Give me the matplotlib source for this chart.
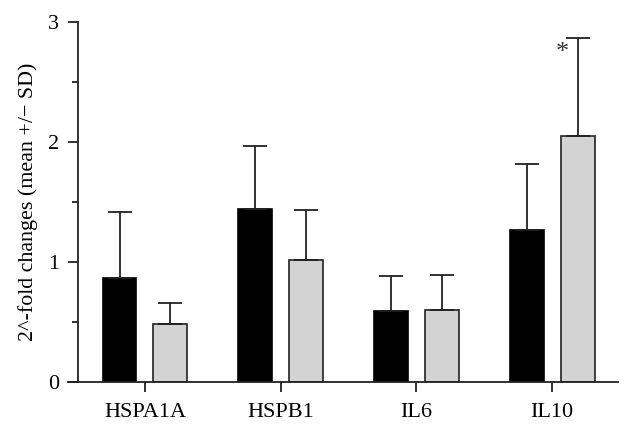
import numpy as np
import matplotlib
matplotlib.use('Agg')
import matplotlib.pyplot as plt
from matplotlib.ticker import MultipleLocator

# Data
genes = ['HSPA1A', 'HSPB1', 'IL6', 'IL10']
black_mean = [0.87, 1.44, 0.59, 1.27]
black_sd = [0.55, 0.53, 0.29, 0.55]
grey_mean = [0.48, 1.02, 0.60, 2.05]
grey_sd = [0.18, 0.41, 0.29, 0.82]

plt.rcParams['font.family'] = ['Liberation Serif', 'DejaVu Serif']

fig = plt.figure(figsize=(6.32, 4.32), dpi=100)
ax = fig.add_axes([68 / 632, 1 - 382 / 432, 550 / 632, 360 / 432])

x = np.arange(len(genes))
w = 0.25
off = 0.1875
err_kw = dict(ecolor='#222222', elinewidth=1.3, capsize=8.5, capthick=1.3)

ax.bar(x - off, black_mean, w, color='black', edgecolor='black', linewidth=1.2,
       yerr=[np.zeros(len(genes)), black_sd], error_kw=err_kw, zorder=2)
ax.bar(x + off, grey_mean, w, color='#d3d3d3', edgecolor='#222222', linewidth=1.2,
       yerr=[np.zeros(len(genes)), grey_sd], error_kw=err_kw, zorder=2)

# significance marker on IL10
ax.text(3 + off - 0.115, grey_mean[3] + grey_sd[3] - 0.13, '*', ha='center', va='center',
        fontsize=19, color='#333333')

ax.set_xlim(-0.567, 3.485)
ax.set_ylim(0, 3)
ax.spines['top'].set_visible(False)
ax.spines['right'].set_visible(False)
ax.spines['left'].set_position(('data', -0.494))
for s in ('left', 'bottom'):
    ax.spines[s].set_linewidth(1.3)
    ax.spines[s].set_color('#222222')

ax.set_xticks(x)
ax.set_xticklabels(genes, fontsize=16)
ax.yaxis.set_major_locator(MultipleLocator(1))
ax.yaxis.set_minor_locator(MultipleLocator(0.5))
ax.tick_params(axis='y', which='major', length=7.5, width=1.3, labelsize=16, pad=6, color='#222222')
ax.tick_params(axis='y', which='minor', length=4.5, width=1.3, color='#222222')
ax.tick_params(axis='x', length=7, width=1.3, pad=8, color='#222222')
ax.set_ylabel('2^-fold changes (mean +/\u2212 SD)', fontsize=15.8, labelpad=7)

fig.savefig('out.png', dpi=100)
